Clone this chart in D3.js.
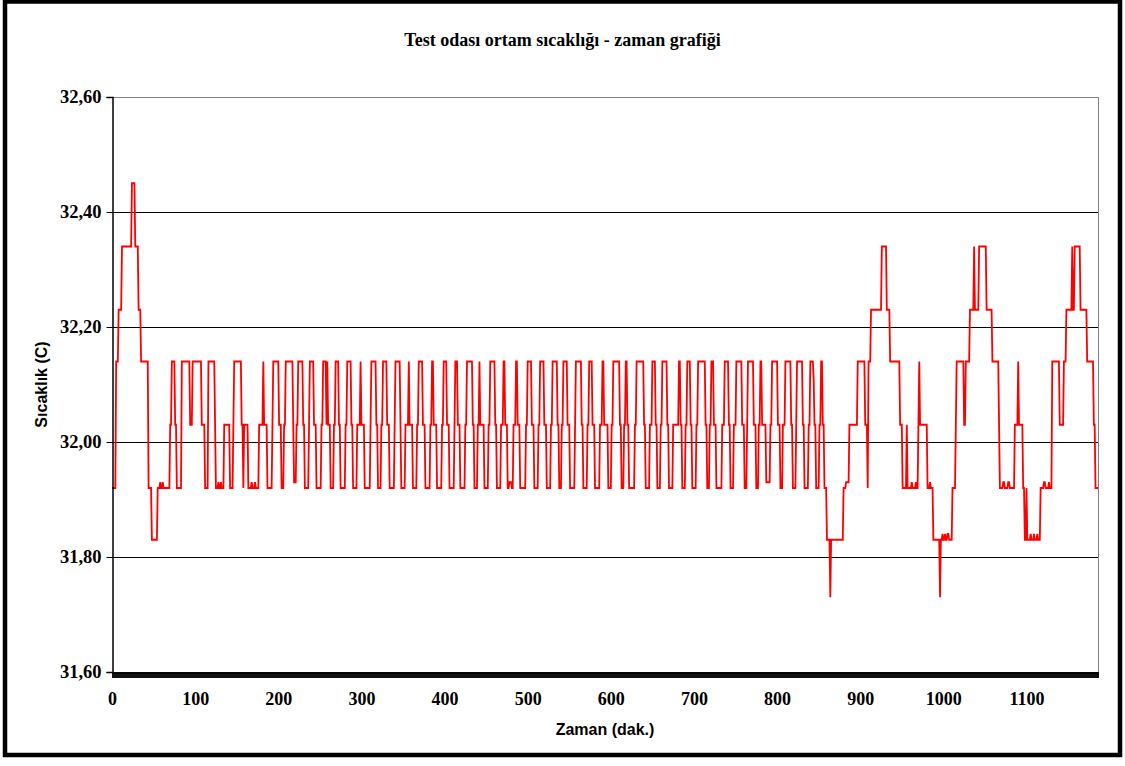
<!DOCTYPE html>
<html>
<head>
<meta charset="utf-8">
<script src="https://cdn.jsdelivr.net/npm/d3@7"></script>
<style>
  html, body { margin: 0; padding: 0; background: #fff; }
  svg { display: block; }
</style>
</head>
<body>
<svg id="chart" width="1125" height="766"></svg>
<script>
// Chart texts
const chartTitle = "Test odası ortam sıcaklığı - zaman grafiği";
const xTitle = "Zaman (dak.)";
const yTitle = "Sıcaklık (C)";

// Axis ticks
const yTicks = [31.6, 31.8, 32.0, 32.2, 32.4, 32.6];
const xTicks = [0, 100, 200, 300, 400, 500, 600, 700, 800, 900, 1000, 1100];

// Room temperature, one reading per minute, stored as runs:
// [temperature (°C), number of consecutive minutes at that temperature]
const runs = [
  [31.92,5],[32.14,3],[32.23,4],[32.34,12],[32.45,4],[32.34,4],[32.23,3],[32.14,9],[31.92,4],[31.83,7],
  [31.92,3],[31.93,1],[31.92,2],[31.93,1],[31.92,8],
  [32.03,2],[32.14,4],[32.03,2],[31.92,6],[32.14,10],[32.03,3],[32.14,11],[32.03,4],[31.92,4],[32.14,8],[32.03,1],
  [31.92,3],[31.93,1],[31.92,2],[31.93,1],[31.92,3],
  [32.03,7],[31.92,4],[32.03,1],[32.14,9],[32.03,2],[31.92,1],[32.03,5],
  [31.92,4],[31.93,1],[31.92,3],[31.93,1],[31.92,4],
  [32.03,5],[32.14,1],[32.03,4],[31.92,6],[32.03,1],[32.14,7],[32.03,3],[31.92,3],[32.03,2],[32.14,9],
  [32.03,1],[31.93,3],[32.03,2],[32.14,6],[32.03,2],[31.92,5],[32.03,1],[32.14,5],[32.03,3],[31.92,6],[32.03,2],
  [32.14,4],[32.03,1],[32.14,1],[32.03,3],[31.92,4],[32.03,2],[32.14,4],[32.03,2],[31.92,6],[32.03,2],[32.14,5],[32.03,2],
  [31.92,5],[32.03,4],[32.14,1],[32.03,4],[31.92,7],[32.03,1],[32.14,6],[32.03,2],[31.92,4],[32.03,2],[32.14,5],[32.03,3],
  [31.92,6],[32.03,1],[32.14,6],[32.03,1],[31.92,5],[32.03,4],[32.14,1],[32.03,4],[31.92,5],[32.03,2],[32.14,5],[32.03,3],
  [31.92,6],[32.03,2],[32.14,2],[32.03,4],[31.92,6],[32.03,2],[32.14,4],[32.03,3],[31.92,6],[32.03,1],[32.14,3],[32.03,3],
  [31.92,6],[32.03,2],[32.14,7],[32.03,2],[31.92,4],[32.03,2],[32.14,1],[32.03,5],[31.92,5],[32.03,2],[32.14,6],[32.03,2],
  [31.92,5],[32.03,3],[32.14,2],[32.03,3],[31.92,2],[31.93,3],[31.92,2],[32.03,3],[32.14,2],[32.03,3],[31.92,7],[32.03,2],
  [32.14,5],[32.03,3],[31.92,5],[32.03,2],[32.14,5],[32.03,3],[31.92,5],[32.03,2],[32.14,6],[32.03,2],[31.92,3],[32.03,2],
  [32.14,5],[32.03,3],[31.92,6],[32.03,1],[32.14,7],[32.03,2],[31.92,5],[32.03,2],[32.14,4],[32.03,3],[31.92,6],[32.03,3],
  [32.14,2],[32.03,5],[31.92,4],[32.03,2],[32.14,8],[32.03,2],[31.92,3],[32.03,2],[32.14,2],[32.03,2],[31.92,7],[32.03,2],
  [32.14,9],[32.03,2],[31.92,5],[32.03,3],[32.14,4],[32.03,2],[31.92,4],[32.03,2],[32.14,6],[32.03,2],[31.92,5],[32.03,7],
  [32.14,2],[32.03,2],[31.92,4],[32.03,2],[32.14,4],[32.03,2],[31.92,5],[32.03,2],[32.14,9],[32.03,2],[31.92,3],[32.03,2],
  [32.14,3],[32.03,3],[31.92,7],[32.03,3],[32.14,5],[32.03,2],[31.92,4],[32.03,3],[32.14,7],[32.03,3],[31.92,3],[32.03,1],
  [32.14,7],[32.03,3],[31.92,3],[32.03,2],[32.14,2],[32.03,5],[31.93,5],[32.03,2],[32.14,7],[32.03,3],[31.92,3],[32.03,3],
  [32.14,7],[32.03,2],[31.92,4],[32.03,1],[32.14,7],[32.03,2],[31.92,5],[32.03,2],[32.14,4],[32.11,1],[32.03,2],[31.92,4],
  [32.03,2],[32.14,2],[32.03,2],[31.92,3],
  [31.83,4],[31.73,1],[31.83,15],[31.92,3],[31.93,4],[32.03,10],[32.14,9],[32.03,3],[31.92,1],[32.14,3],[32.23,13],[32.34,6],
  [32.23,4],[32.14,12],[32.03,3],[31.92,5],[32.03,1],[31.92,5],[31.93,1],[31.92,4],[31.93,1],[31.92,2],[32.03,1],[32.14,1],[32.03,9],
  [31.92,3],[31.93,1],[31.92,3],[31.83,8],[31.73,1],[31.83,2],[31.84,1],[31.83,2],[31.84,1],[31.83,2],[31.84,2],[31.83,4],
  [31.92,4],[32.03,1],[32.14,9],[32.03,2],[32.14,5],[32.23,5],[32.34,1],[32.23,5],[32.34,9],[32.23,7],[32.14,8],[32.03,1],
  [31.92,4],[31.93,2],[31.92,4],[31.93,2],[31.92,6],[32.03,4],[32.14,1],[32.03,5],[31.92,2],
  [31.83,2],[31.92,1],[31.83,4],[31.84,1],[31.83,3],[31.84,1],[31.83,3],[31.84,1],[31.83,3],
  [31.92,4],[31.93,2],[31.92,4],[31.93,1],[31.92,3],[32.14,9],[32.03,5],[32.14,3],[32.23,7],[32.34,1],[32.23,2],[32.34,7],
  [32.23,8],[32.14,8],[32.03,2],[31.92,4]
];

// Expand the runs into minute-by-minute readings
const readings = [];
runs.forEach(([temp, count]) => {
  for (let k = 0; k < count; k++) readings.push({ minute: readings.length, temp });
});

const svg = d3.select("#chart");
const plot = { left: 112, right: 1098, top: 97, bottom: 672 };

const x = d3.scaleLinear().domain([0, 1186]).range([plot.left, plot.right]);
const y = d3.scaleLinear().domain([31.6, 32.6]).range([plot.bottom, plot.top]);

const serif = "'Liberation Serif', 'Times New Roman', serif";
const sans = "'Liberation Sans', Arial, sans-serif";
const fmtY = v => d3.format(".2f")(v).replace(".", ",");

// Horizontal grid lines
svg.append("g")
  .selectAll("line")
  .data(yTicks.filter(v => v > 31.6 && v < 32.6))
  .join("line")
  .attr("x1", plot.left).attr("x2", plot.right)
  .attr("y1", d => Math.round(y(d)) + 0.5).attr("y2", d => Math.round(y(d)) + 0.5)
  .attr("stroke", "#000").attr("stroke-width", 1);

// Plot-area frame (top and right edges)
svg.append("path")
  .attr("d", `M${plot.left},${plot.top + 0.5}H${plot.right + 0.5}V${plot.bottom}`)
  .attr("fill", "none").attr("stroke", "#808080").attr("stroke-width", 1);

// Temperature line
const line = d3.line().x(d => x(d.minute)).y(d => y(d.temp));
svg.append("path")
  .datum(readings)
  .attr("d", line)
  .attr("fill", "none")
  .attr("stroke", "#ff0000")
  .attr("stroke-width", 1.8)
  .attr("stroke-linejoin", "miter");

// Y axis
const yAxis = d3.axisLeft(y).tickValues(yTicks).tickSize(6).tickPadding(5).tickFormat(fmtY);
const gy = svg.append("g").attr("transform", `translate(${plot.left + 0.5},0)`).call(yAxis);
gy.select(".domain").attr("stroke", "#000").attr("stroke-width", 1.5);
gy.selectAll(".tick line").attr("stroke", "#000");
gy.selectAll(".tick text")
  .attr("font-family", serif).attr("font-weight", "bold").attr("font-size", 18.5).attr("fill", "#000");

// X axis: one tick per minute, labels every 100 minutes
const minuteTicks = d3.range(0, 1187);
const xAxisTicks = d3.axisBottom(x).tickValues(minuteTicks).tickSize(6).tickFormat("");
const gxt = svg.append("g").attr("transform", `translate(0,${plot.bottom})`).call(xAxisTicks);
gxt.select(".domain").remove();
gxt.selectAll(".tick line").attr("stroke", "#111").attr("stroke-width", 1).attr("shape-rendering", "crispEdges");

const xAxis = d3.axisBottom(x).tickValues(xTicks).tickSize(0).tickPadding(20).tickFormat(d3.format("d"));
const gx = svg.append("g").attr("transform", `translate(0,${plot.bottom + 0.5})`).call(xAxis);
gx.select(".domain").attr("stroke", "#000").attr("stroke-width", 1.5);
gx.selectAll(".tick text")
  .attr("font-family", serif).attr("font-weight", "bold").attr("font-size", 18).attr("fill", "#000");

// Titles
svg.append("text")
  .attr("x", 562.5).attr("y", 46)
  .attr("text-anchor", "middle")
  .attr("font-family", serif).attr("font-weight", "bold").attr("font-size", 18)
  .text(chartTitle);

svg.append("text")
  .attr("x", (plot.left + plot.right) / 2).attr("y", 735)
  .attr("text-anchor", "middle")
  .attr("font-family", sans).attr("font-weight", "bold").attr("font-size", 16)
  .text(xTitle);

svg.append("text")
  .attr("transform", `translate(47,${(plot.top + plot.bottom) / 2}) rotate(-90)`)
  .attr("text-anchor", "middle")
  .attr("font-family", sans).attr("font-weight", "bold").attr("font-size", 16)
  .text(yTitle);

// Outer chart border
svg.append("rect")
  .attr("x", 5).attr("y", 1.5).attr("width", 1115).attr("height", 753.5)
  .attr("fill", "none").attr("stroke", "#000").attr("stroke-width", 4.5);
</script>
</body>
</html>
